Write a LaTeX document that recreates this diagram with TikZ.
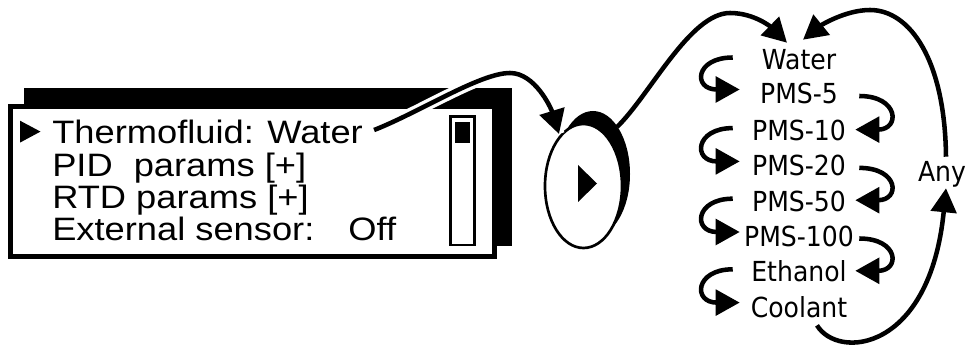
\documentclass[tikz,border=0pt]{standalone}
\usepackage{fontspec}
\newfontfamily\panelfont{Liberation Sans}[FakeStretch=1.12]
\newfontfamily\listfont{DejaVu Sans}[FakeStretch=0.91]
\usetikzlibrary{arrows.meta,fit,calc}
\begin{document}
\begin{tikzpicture}[x=0.75pt,y=-0.75pt,
  conn/.style={line width=3.4pt, -{Triangle[length=18pt,width=19pt]}},
  halo/.style={preaction={draw=white,line width=8.4pt,-}},
  paneltext/.style={font=\panelfont\fontsize{24.3}{28}\selectfont, inner sep=0pt, anchor=base west},
  item/.style={font=\listfont\fontsize{20.7}{24}\selectfont, inner sep=0pt, text height=15pt, text depth=0pt, minimum width=88.5pt},
  anyitem/.style={font=\listfont\fontsize{20.7}{24}\selectfont, inner sep=0pt, text height=15pt, text depth=0pt},
]
\useasboundingbox (0,0) rectangle (968,345);
% panel
\node[fit={(24,88) (512,246)}, inner sep=0pt, fill=black] (panelshadow) {};
\node[fit={(10.3,106.3) (494.7,256.7)}, inner sep=0pt, fill=white, draw=black, line width=3.5pt] (panel) {};
\node[fit={(450.5,116.5) (474.5,245)}, inner sep=0pt, fill=white, draw=black, line width=2pt] (scroll) {};
\node[fit={(455,122) (470,143)}, inner sep=0pt, fill=black] (thumb) {};
\fill (20,120.7) -- (20,142.6) -- (40.5,131.6) -- cycle;
\node[paneltext] (therm) at (52,143.6) {Thermofluid: Water};
\node[paneltext] (pid) at (52,177) {PID\hspace{0.65em}params [+]};
\node[paneltext] (rtd) at (52,209) {RTD params [+]};
\node[paneltext] (ext) at (52,240.6) {External sensor:\hspace{1.05em}Off};
% button
\fill[black] (593,174) ellipse [x radius=37, y radius=63];
\filldraw[fill=white, draw=black, line width=2pt] (583.5,186) ellipse [x radius=38.5, y radius=62];
\fill (578,165) -- (578,202) -- (597,183.5) -- cycle;
\coordinate (btnin) at (559,134);
\coordinate (btnout) at (617,127);
% list
\node[item] (water) at (799,60) {Water};
\node[item] (pms5) at (799,94) {PMS-5};
\node[item] (pms10) at (799,130.6) {PMS-10};
\node[item] (pms20) at (799,165.9) {PMS-20};
\node[item] (pms50) at (799,201.2) {PMS-50};
\node[item] (pms100) at (799,236.5) {PMS-100};
\node[item] (ethanol) at (799,271.8) {Ethanol};
\node[item] (coolant) at (799,307.1) {Coolant};
\node[anyitem] (any) at (942,172) {Any};
% connectors
\draw[conn,halo] ($(therm.east)+(11,-2)$) .. controls (420,112) and (480,73) .. (510,73)
  .. controls (535,73) and (551,108) .. (btnin);
\draw[conn] (btnout) .. controls (650,95) and (690,13) .. (730,13)
  .. controls (755,13) and (772,28) .. ($(water.north)+(-12,-7)$);
\draw[conn] ($(any.north)+(4,-5)$) .. controls (945,60) and (910,10) .. (870,10)
  .. controls (845,10) and (820,26) .. ($(water.north)+(4,-10)$);
\draw[conn] ($(coolant.south)+(18,8)$) .. controls (838,360) and (930,352) .. ($(any.south)+(4,6)$);
% left loops
\draw[conn] ($(water.west)+(-7,-2.5)$) .. controls +(-38,0) and +(-47,0) .. ($(pms5.west)+(0,-4.5)$);
\draw[conn] ($(pms10.west)+(-7,-2.5)$) .. controls +(-38,0) and +(-47,0) .. ($(pms20.west)+(0,-4.5)$);
\draw[conn] ($(pms50.west)+(-7,-2.5)$) .. controls +(-38,0) and +(-47,0) .. ($(pms100.west)+(0,-4.5)$);
\draw[conn] ($(ethanol.west)+(-7,-2.5)$) .. controls +(-38,0) and +(-47,0) .. ($(coolant.west)+(0,-4.5)$);
% right loops
\draw[conn] ($(pms5.east)+(1,2)$) .. controls +(40,0) and +(45,0) .. ($(pms10.east)+(-3,-1)$);
\draw[conn] ($(pms20.east)+(1,2)$) .. controls +(40,0) and +(45,0) .. ($(pms50.east)+(-3,-1)$);
\draw[conn] ($(pms100.east)+(1,2)$) .. controls +(40,0) and +(45,0) .. ($(ethanol.east)+(-3,-1)$);
\end{tikzpicture}
\end{document}
